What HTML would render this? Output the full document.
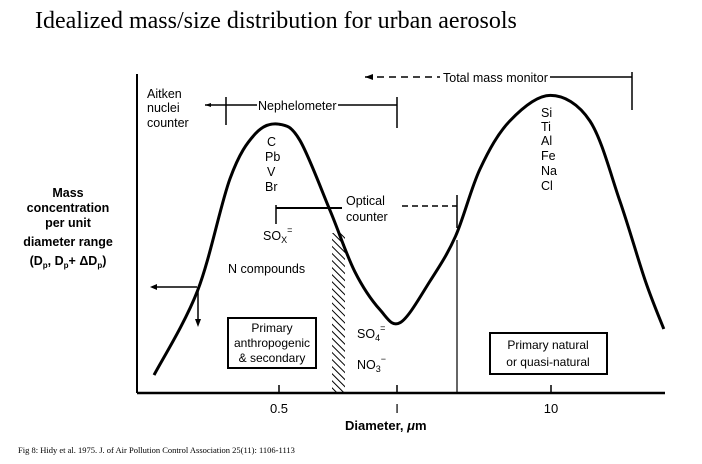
<!DOCTYPE html>
<html><head><meta charset="utf-8"><style>
body{margin:0;background:#fff;width:702px;height:464px;overflow:hidden}
svg{display:block}
text{font-family:"Liberation Sans",sans-serif;fill:#000}
</style></head><body>
<svg id="chart" width="702" height="464" viewBox="0 0 702 464" xmlns="http://www.w3.org/2000/svg">
<text x="35" y="28" style="font-family:'Liberation Serif',serif;font-size:24px">Idealized mass/size distribution for urban aerosols</text>
<g id="axes" stroke="#000" fill="none">
<line x1="137" y1="74" x2="137" y2="393" stroke-width="2"/>
<line x1="137" y1="393" x2="665" y2="393" stroke-width="2.5"/>
</g>
<g id="ticks"></g>
<g font-size="12.5" text-anchor="middle" font-weight="bold">
<text x="68" y="197">Mass</text>
<text x="68" y="212">concentration</text>
<text x="68" y="227">per unit</text>
<text x="68" y="246">diameter range</text>
<text x="68" y="265">(D<tspan font-size="8" dy="3">p</tspan><tspan dy="-3">, D</tspan><tspan font-size="8" dy="3">p</tspan><tspan dy="-3">+ ΔD</tspan><tspan font-size="8" dy="3">p</tspan><tspan dy="-3">)</tspan></text>
</g>
<text x="345" y="430" font-size="13" font-weight="bold">Diameter, <tspan font-style="italic">μ</tspan>m</text>
<g stroke="#000" stroke-width="1.5" fill="none">
<line x1="365" y1="77" x2="440" y2="77" stroke-dasharray="7,5"/>
<line x1="550" y1="77" x2="632" y2="77"/>
<line x1="632" y1="72" x2="632" y2="110"/>
<line x1="205" y1="105" x2="257" y2="105"/>
<line x1="338" y1="105" x2="397" y2="105"/>
<line x1="226" y1="97" x2="226" y2="125"/>
<line x1="397" y1="97" x2="397" y2="128"/>
<line x1="276" y1="205" x2="276" y2="224"/>
<line x1="276" y1="208" x2="342" y2="208" stroke-width="2"/>
<line x1="402" y1="206" x2="457" y2="206" stroke-dasharray="6,4"/>
<line x1="457" y1="195" x2="457" y2="228"/>
<line x1="152" y1="287" x2="197" y2="287"/>
<line x1="198" y1="287" x2="198" y2="322"/>
<line x1="457" y1="240" x2="457" y2="393" stroke-width="1.2"/>
</g>
<g fill="#000">
<polygon points="365,77 373,74 373,80"/>
<polygon points="205,105 211,103 211,107"/>
<polygon points="150,287 157,284 157,290"/>
<polygon points="198,327 195,319 201,319"/>
</g>
<g font-size="12.5" style="font-weight:500">
<text x="443" y="82">Total mass monitor</text>
<text x="258" y="110">Nephelometer</text>
<text x="147" y="98">Aitken</text>
<text x="147" y="112">nuclei</text>
<text x="147" y="127">counter</text>
<text x="346" y="205">Optical</text>
<text x="346" y="221">counter</text>
<text x="267" y="146">C</text>
<text x="265" y="161">Pb</text>
<text x="267" y="176">V</text>
<text x="265" y="191">Br</text>
<text x="541" y="117">Si</text>
<text x="541" y="131">Ti</text>
<text x="541" y="145">Al</text>
<text x="541" y="160">Fe</text>
<text x="541" y="175">Na</text>
<text x="541" y="190">Cl</text>
<text x="263" y="240">SO<tspan font-size="9" dy="3">X</tspan><tspan font-size="9" dy="-10">=</tspan></text>
<text x="228" y="273">N compounds</text>
<text x="357" y="338">SO<tspan font-size="9" dy="3">4</tspan><tspan font-size="9" dy="-10">=</tspan></text>
<text x="357" y="369">NO<tspan font-size="9" dy="3">3</tspan><tspan font-size="9" dy="-10">−</tspan></text>
</g>
<g>
<rect x="228" y="318" width="88" height="50" fill="none" stroke="#000" stroke-width="2"/>
<g font-size="12" text-anchor="middle"><text x="272" y="332">Primary</text><text x="272" y="347">anthropogenic</text><text x="272" y="362">&amp; secondary</text></g>
</g>
<g>
<rect x="490" y="333" width="117" height="41" fill="none" stroke="#000" stroke-width="2"/>
<g font-size="12" text-anchor="middle"><text x="548" y="349">Primary natural</text><text x="548" y="366">or quasi-natural</text></g>
</g>
<defs><pattern id="hatch" width="5" height="5" patternUnits="userSpaceOnUse" patternTransform="rotate(-45)"><line x1="0" y1="0" x2="0" y2="5" stroke="#000" stroke-width="2"/></pattern></defs>
<rect x="332" y="233" width="13" height="160" fill="url(#hatch)"/>
<g id="series"></g>
<text x="18" y="453" style="font-family:'Liberation Serif',serif;font-size:8.5px">Fig 8: Hidy et al. 1975.  J. of Air Pollution Control Association 25(11): 1106-1113</text>
</svg>
<script>
const diameters = [0.24,0.31,0.375,0.435,0.5,0.565,0.675,0.78,0.905,1.05,1.64,2.4,3.46,5.4,9.9,17.9,28,41,54];
const massValues = [5.6,32,67,81,84,79,57,38,26,22,35,49,70,85,93,85,60,35,20];
const tickValues = [0.5,1,10];
const tickLabels = ["0.5","I","10"];
const NS="http://www.w3.org/2000/svg";
function xScale(d){
  const l=Math.log10(d);
  if(d<=1) return 279+(l-Math.log10(0.5))*392;
  return 397+l*154;
}
function yScale(v){return 393-v*3.2;}
const ticks=document.getElementById('ticks');
tickValues.forEach((t,i)=>{
  const x=xScale(t);
  const ln=document.createElementNS(NS,'line');
  ln.setAttribute('x1',x);ln.setAttribute('x2',x);ln.setAttribute('y1',385);ln.setAttribute('y2',393);
  ln.setAttribute('stroke','#000');ln.setAttribute('stroke-width','1.5');
  
  
  ticks.appendChild(ln);
  const tx=document.createElementNS(NS,'text');
  tx.setAttribute('x',x);tx.setAttribute('y',413);tx.setAttribute('text-anchor','middle');tx.setAttribute('font-size','13');
  tx.textContent=tickLabels[i];
  
  
  ticks.appendChild(tx);
});
const pts=diameters.map((d,i)=>[xScale(d),yScale(massValues[i])]);
let p='M'+pts[0][0]+','+pts[0][1];
for(let i=0;i<pts.length-1;i++){
  const p0=pts[i-1]||pts[i],p1=pts[i],p2=pts[i+1],p3=pts[i+2]||p2;
  const c1=[p1[0]+(p2[0]-p0[0])/6,p1[1]+(p2[1]-p0[1])/6];
  const c2=[p2[0]-(p3[0]-p1[0])/6,p2[1]-(p3[1]-p1[1])/6];
  p+=' C'+c1+' '+c2+' '+p2;
}
const path=document.createElementNS(NS,'path');
path.setAttribute('d',p);path.setAttribute('fill','none');path.setAttribute('stroke','#000');path.setAttribute('stroke-width','3');


document.getElementById('series').appendChild(path);
</script>
</body></html>
